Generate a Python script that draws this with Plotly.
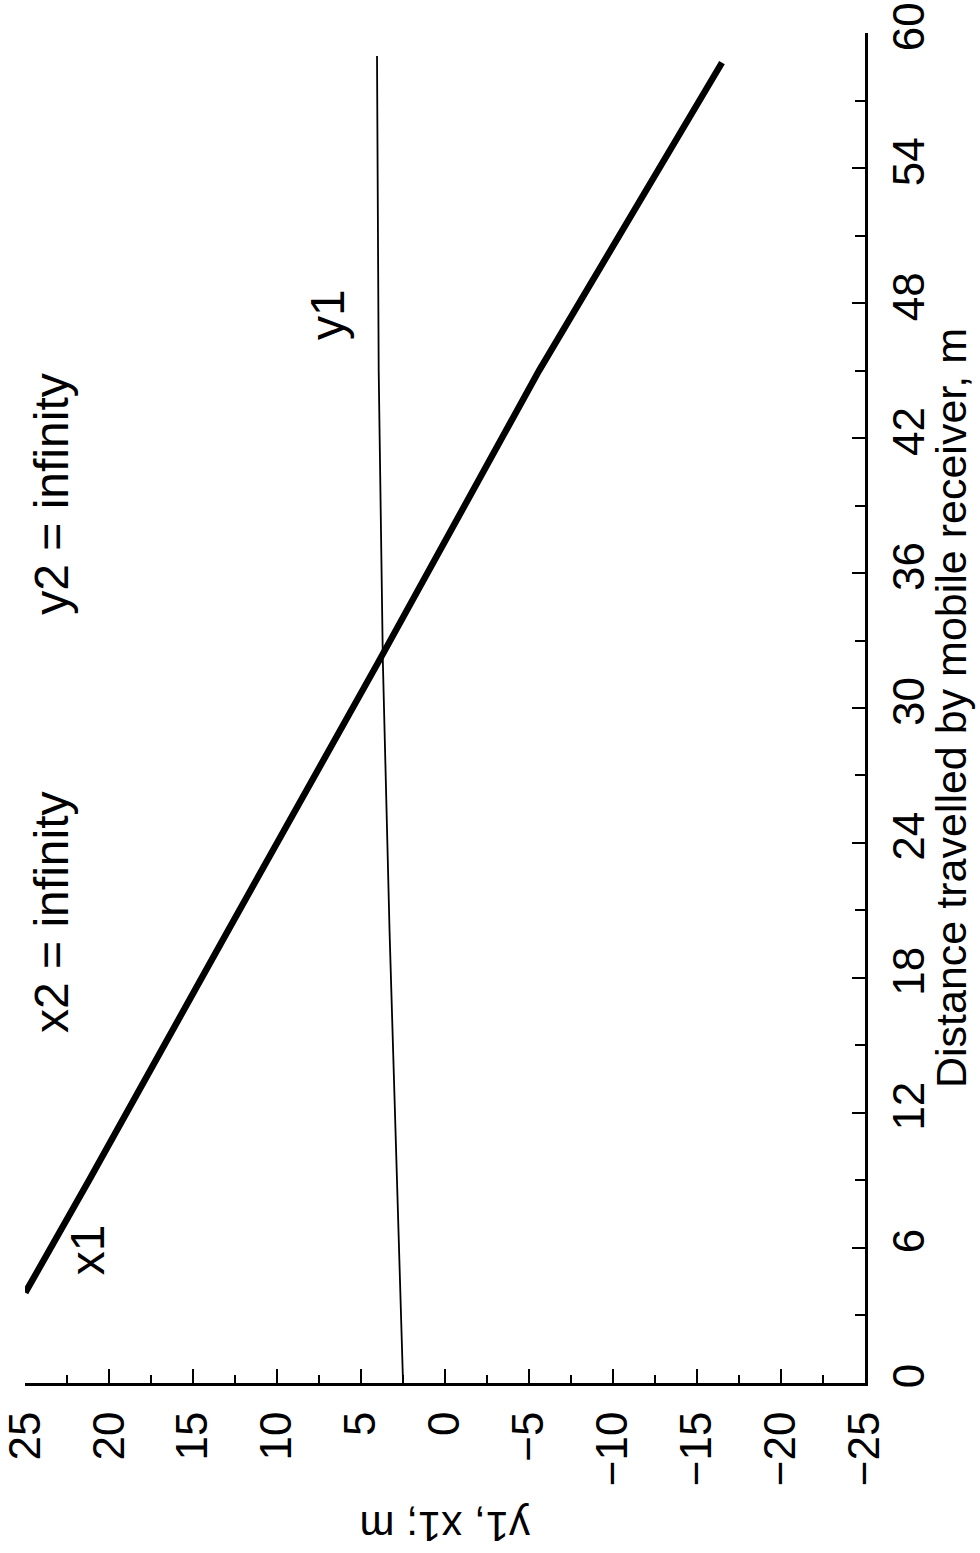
import plotly.graph_objects as go

# ---- data ----
distance_x1 = [4.0, 9.0, 20.0, 32.0, 45.0, 58.7]
x1_values = [25.0, 21.2, 13.0, 4.0, -5.6, -16.5]

distance_y1 = [0.0, 9.0, 20.0, 32.0, 45.0, 59.0]
y1_values = [2.5, 2.85, 3.3, 3.7, 3.95, 4.05]

value_ticks = [25, 20, 15, 10, 5, 0, -5, -10, -15, -20, -25]
value_minor = [22.5, 17.5, 12.5, 7.5, 2.5, -2.5, -7.5, -12.5, -17.5, -22.5]
distance_ticks = [0, 6, 12, 18, 24, 30, 36, 42, 48, 54, 60]
distance_minor = [3, 9, 15, 21, 27, 33, 39, 45, 51, 57]

FONT = "Liberation Sans, Arial, sans-serif"


def fmt(v):
    return ("\u2212" + str(-v)) if v < 0 else str(v)


fig = go.Figure()
fig.add_trace(go.Scatter(x=x1_values, y=distance_x1, mode="lines",
                         line=dict(color="black", width=6.5), showlegend=False))
fig.add_trace(go.Scatter(x=y1_values, y=distance_y1, mode="lines",
                         line=dict(color="black", width=1.8), showlegend=False))

fig.update_layout(
    width=980, height=1553,
    margin=dict(l=25, r=115, t=33, b=170, autoexpand=False),
    paper_bgcolor="white", plot_bgcolor="white",
    font=dict(family=FONT, color="black", size=44),
    showlegend=False,
)

fig.update_xaxes(
    range=[25.02, -25.02], showgrid=False, zeroline=False, automargin=False,
    showline=True, linecolor="black", linewidth=3,
    tickvals=value_ticks, ticktext=[fmt(v) for v in value_ticks],
    ticks="inside", ticklen=14, tickwidth=2, tickcolor="black",
    tickangle=-90, tickfont=dict(size=44), ticklabelstandoff=8,
    ticklabeloverflow="allow",
    minor=dict(tickvals=value_minor, ticks="inside", ticklen=8,
               tickwidth=2, tickcolor="black", showgrid=False),
)
fig.update_yaxes(
    range=[-0.02, 60.02], side="right", showgrid=False, zeroline=False,
    automargin=False,
    showline=True, linecolor="black", linewidth=3,
    tickvals=distance_ticks, ticktext=[fmt(v) for v in distance_ticks],
    ticks="inside", ticklen=13, tickwidth=2, tickcolor="black",
    tickangle=-90, tickfont=dict(size=44), ticklabelstandoff=3,
    ticklabeloverflow="allow",
    minor=dict(tickvals=distance_minor, ticks="inside", ticklen=10,
               tickwidth=2, tickcolor="black", showgrid=False),
)

ann = [
    dict(text="Distance travelled by mobile receiver, m", xref="paper", yref="paper",
         x=1.1024, y=0.5, textangle=-90, font=dict(size=43)),
    dict(text="y1, x1; m", xref="paper", yref="paper",
         x=0.5, y=-0.1067, textangle=180, font=dict(size=42)),
    dict(text="x1", xref="x", yref="y", x=21.25, y=5.9, textangle=-90,
         font=dict(size=48)),
    dict(text="x2 = infinity", xref="x", yref="y", x=23.45, y=20.9,
         textangle=-90, font=dict(size=48)),
    dict(text="y2 = infinity", xref="x", yref="y", x=23.45, y=39.5,
         textangle=-90, font=dict(size=48)),
    dict(text="y1", xref="x", yref="y", x=7.0, y=47.5, textangle=-90,
         font=dict(size=48)),
]
for a in ann:
    a.update(showarrow=False, xanchor="center", yanchor="middle")
    fig.add_annotation(**a)

fig.write_html("out.html")
